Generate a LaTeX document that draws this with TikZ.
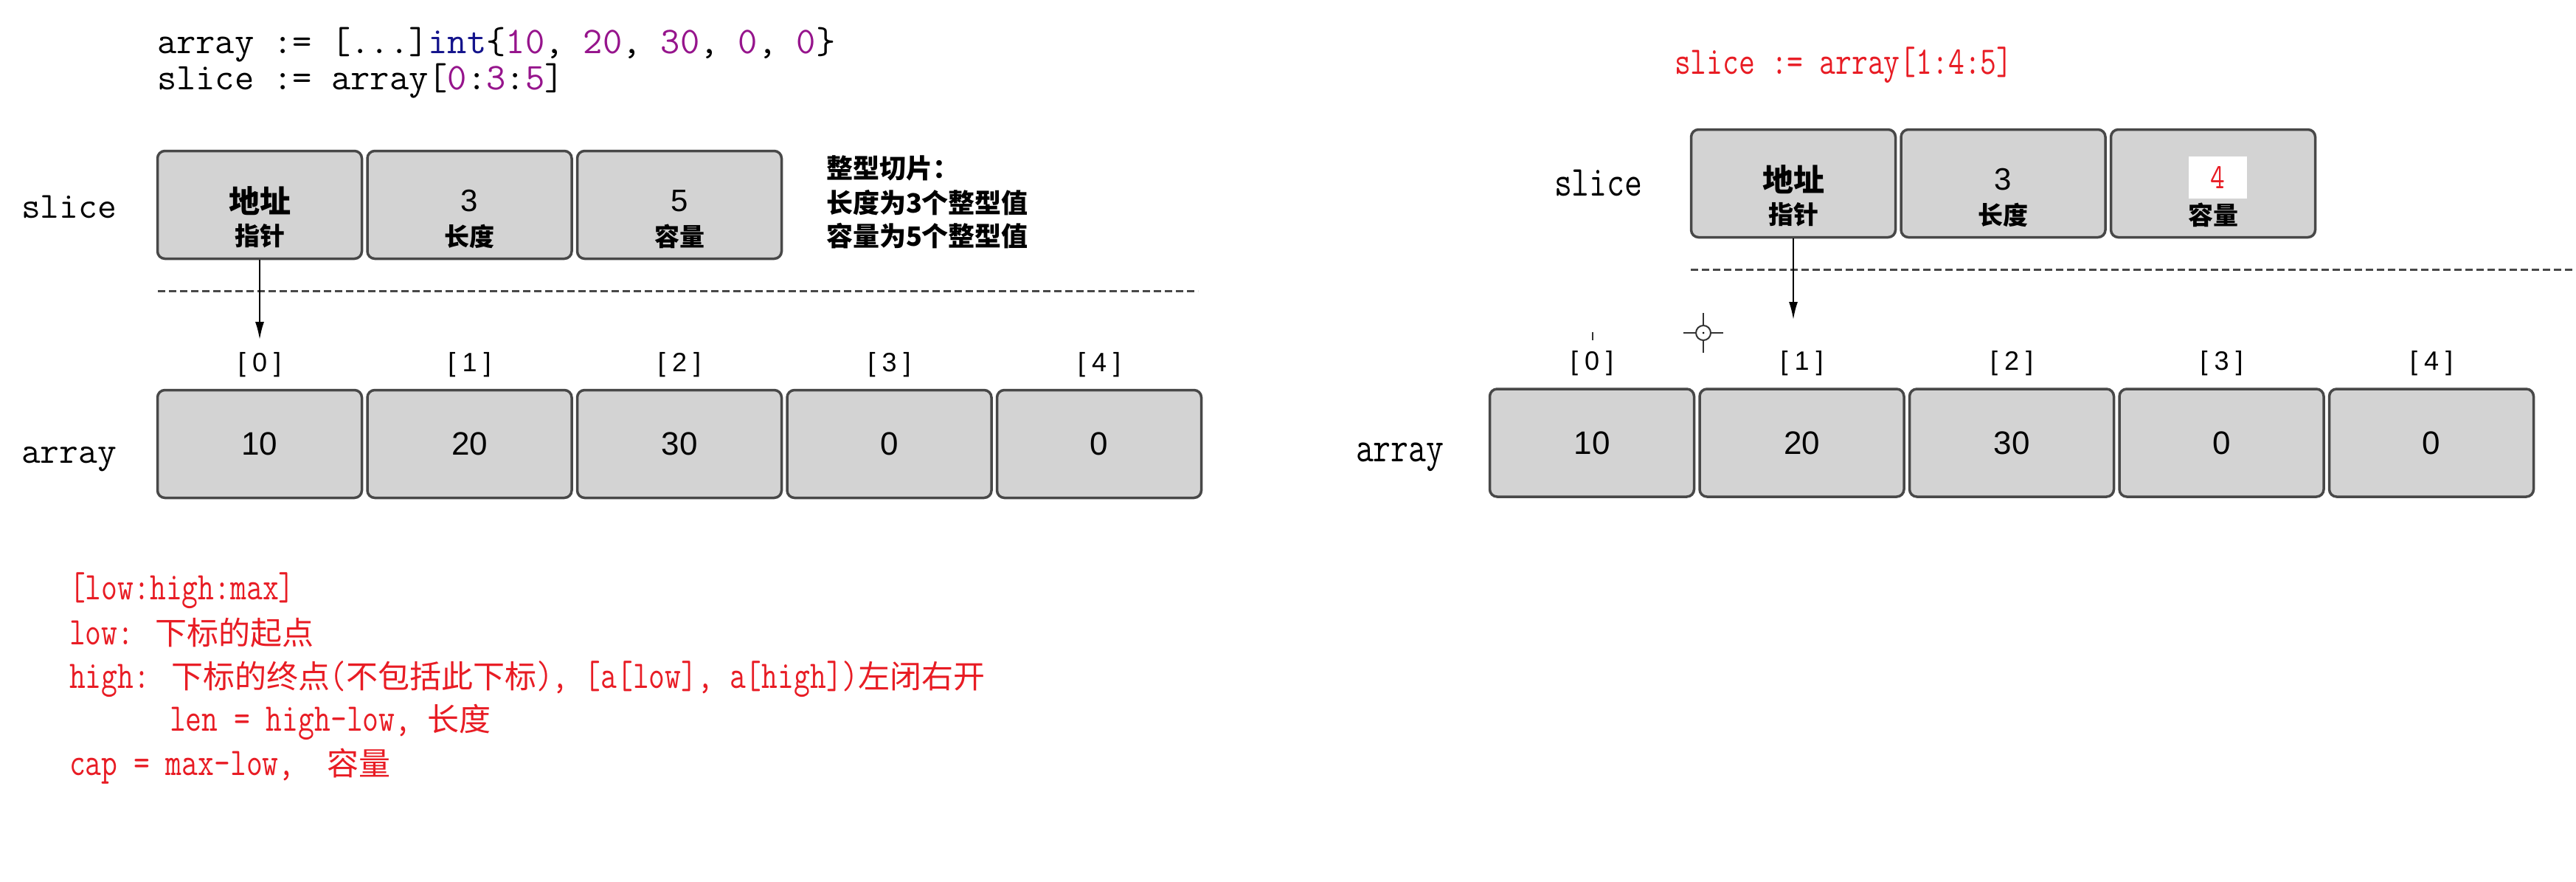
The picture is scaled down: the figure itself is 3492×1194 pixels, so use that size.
\documentclass[tikz,border=0pt]{standalone}
\usepackage{fontspec}
\usetikzlibrary{arrows.meta}
\setmainfont{Liberation Sans}
\newfontfamily\codefont{Latin Modern Mono}
\newfontfamily\narrowfont[FakeStretch=0.8]{Latin Modern Mono}
\newfontfamily\cjk{Noto Sans CJK SC}
\definecolor{boxfill}{RGB}{211,211,211}
\definecolor{boxline}{RGB}{72,72,72}
\definecolor{redtxt}{RGB}{232,28,36}
\definecolor{kwblue}{RGB}{20,20,140}
\definecolor{numpurple}{RGB}{150,20,140}
\newcommand\fs[1]{\fontsize{#1pt}{#1pt}\selectfont}
\newcommand\np[1]{{\color{numpurple}#1}}
\newcommand\ix[1]{[\kern9pt#1\kern9pt]}
\newcommand\zh[1]{{\cjk\fs{43}#1}}
\begin{document}
\begin{tikzpicture}[x=1pt,y=-1pt,
  cell/.style={draw=boxline, fill=boxfill, line width=3.5pt, rounded corners=10pt,
    minimum width=277pt, minimum height=146pt, inner sep=0pt},
  txt/.style={inner sep=0pt, outer sep=0pt},
  code/.style={txt, anchor=base west, font=\codefont\fs{51}},
  lab/.style={txt, anchor=base west, font=\codefont\fs{50}},
  redc/.style={txt, anchor=base west, text=redtxt, font=\narrowfont\fs{53}},
  rlab/.style={txt, anchor=base west, font=\narrowfont\fs{58}},
  idx/.style={txt, font=\fs{36}},
  num/.style={txt, font=\fs{44}},
  snum/.style={txt, font=\fs{42}},
  big/.style={txt, font=\cjk\bfseries\fs{42}},
  sub/.style={txt, font=\cjk\bfseries\fs{34}},
  note/.style={txt, anchor=west, font=\cjk\bfseries\fs{36}},
  ptr/.style={draw=black, line width=2pt, -{Latex[length=24pt,width=12pt]}},
  sep/.style={draw=boxline, line width=3pt, dash pattern=on 10pt off 5pt},
  cursorline/.style={draw=black!80, line width=2pt}
]
\fill[white] (0,0) rectangle (3492,1194);
\useasboundingbox (0,0) rectangle (3492,1194);

% ---------------- left part ----------------
\node[code] (c1) at (213,72) {array := [...]{\color{kwblue}int}\{\np{10}, \np{20}, \np{30}, \np{0}, \np{0}\}};
\node[code] (c2) at (213,121) {slice := array[\np{0}:\np{3}:\np{5}]};

\node[lab] (lslice) at (29,295) {slice};
\node[lab] (larray) at (29,627) {array};

\node[cell] (ls1) at (352,277.5) {};
\node[cell] (ls2) at (636.5,277.5) {};
\node[cell] (ls3) at (921,277.5) {};
\node[big] (ls1a) at (352,272) {地址};
\node[sub] (ls1b) at (352,320) {指针};
\node[snum] (ls2a) at (636.5,272) {3};
\node[sub] (ls2b) at (636.5,320) {长度};
\node[snum] (ls3a) at (921,272) {5};
\node[sub] (ls3b) at (921,320) {容量};

\node[note] (n1) at (1120,228) {整型切片：};
\node[note] (n2) at (1120,275) {长度为3个整型值};
\node[note] (n3) at (1120,320) {容量为5个整型值};

\coordinate (ld1) at (214,394);
\coordinate (ld2) at (1624,394);
\draw[sep] (ld1) -- (ld2);

\foreach \i/\v in {0/10,1/20,2/30,3/0,4/0}{
  \node[cell] (la\i) at ({352+284.5*\i},601.5) {};
  \node[num] (lv\i) at (la\i) {\v};
  \node[idx] (li\i) at ({352+284.5*\i},494) {\ix{\i}};
}

\coordinate (lt) at (352,460);
\draw[ptr] (ls1.south) -- (lt);

\node[redc] (r1) at (94,812) {[low:high:max]};
\node[redc] (r2) at (94,873) {low: \zh{下标的起点}};
\node[redc] (r3) at (94,932) {high: \zh{下标的终点}(\zh{不包括此下标}), [a[low], a[high])\zh{左闭右开}};
\node[redc] (r4) at (230,990) {len = high-low, \zh{长度}};
\node[redc] (r5) at (94,1050) {cap = max-low,\ \ \zh{容量}};

% ---------------- right part ----------------
\node[redc] (rc) at (2270,100) {slice := array[1:4:5]};
\node[rlab] (rslice) at (2107,265) {slice};
\node[rlab] (rarray) at (1838,625) {array};

\node[cell] (rs1) at (2431,248.5) {};
\node[cell] (rs2) at (2715.5,248.5) {};
\node[cell] (rs3) at (3000,248.5) {};
\node[big] (rs1a) at (2431,243) {地址};
\node[sub] (rs1b) at (2431,291) {指针};
\node[snum] (rs2a) at (2715.5,243) {3};
\node[sub] (rs2b) at (2715.5,291) {长度};
\node[fill=white, minimum width=79pt, minimum height=57pt, inner sep=0pt] (rw) at (3006.5,240) {};
\node[txt, text=redtxt, font=\narrowfont\fs{48}] (rs3a) at (rw) {4};
\node[sub] (rs3b) at (3000,291) {容量};

\coordinate (rd1) at (2292,365);
\coordinate (rd2) at (3492,365);
\draw[sep] (rd1) -- (rd2);

\foreach \i/\v in {0/10,1/20,2/30,3/0,4/0}{
  \node[cell] (ra\i) at ({2158+284.5*\i},600) {};
  \node[num] (rv\i) at (ra\i) {\v};
  \node[idx] (ri\i) at ({2158+284.5*\i},492) {\ix{\i}};
}

\coordinate (rt) at (2431,433);
\draw[ptr] (rs1.south) -- (rt);

% cursor cross and tick
\coordinate (cur) at (2309,451);
\draw[cursorline] (cur) circle (10);
\fill[black] (cur) circle (1.5);
\draw[cursorline] ([xshift=-27pt]cur) -- ([xshift=-10pt]cur);
\draw[cursorline] ([xshift=10pt]cur) -- ([xshift=27pt]cur);
\draw[cursorline] ([yshift=27pt]cur) -- ([yshift=10pt]cur);
\draw[cursorline] ([yshift=-10pt]cur) -- ([yshift=-27pt]cur);
\coordinate (tk1) at (2159,450);
\coordinate (tk2) at (2159,461);
\draw[cursorline] (tk1) -- (tk2);
\end{tikzpicture}
\end{document}
